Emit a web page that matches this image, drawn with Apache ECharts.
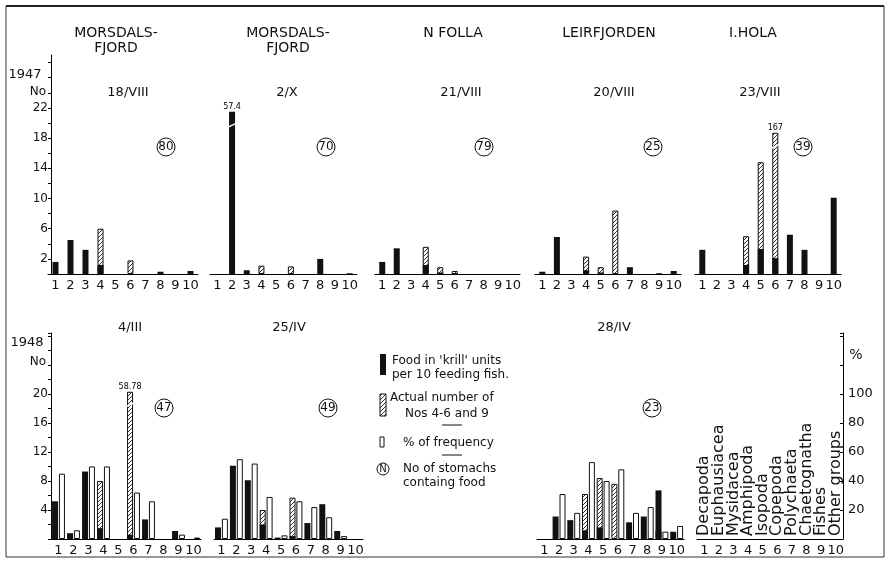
<!DOCTYPE html>
<html>
<head>
<meta charset="utf-8">
<script src="https://cdn.jsdelivr.net/npm/echarts@6/dist/echarts.min.js"></script>
<style>
  html, body { margin: 0; padding: 0; background: #fff; }
  #main { width: 889px; height: 566px; }
</style>
</head>
<body>
<div id="main"></div>
<script>
// prey groups (x categories)
const groupNums = ['1', '2', '3', '4', '5', '6', '7', '8', '9', '10'];
const groupNames = ['Decapoda', 'Euphausiacea', 'Mysidacea', 'Amphipoda', 'Isopoda',
  'Copepoda', 'Polychaeta', 'Chaetognatha', 'Fishes', 'Other groups'];

// 1947 - food in krill units per 10 feeding fish / actual number of Nos 4-6 and 9
const krill18VIII = [1.6, 4.5, 3.2, 1.2, 0, 0, 0, 0.3, 0, 0.4];
const nos18VIII = [0, 0, 0, 6.0, 0, 1.8, 0, 0, 0, 0];
const krill2X = [0, 57.4, 0.5, 0, 0, 0, 0, 2.0, 0, 0.1];
const nos2X = [0, 0, 0, 1.1, 0, 1.0, 0, 0, 0, 0];
const krill21VIII = [1.6, 3.4, 0, 1.2, 0.2, 0.1, 0, 0, 0, 0];
const nos21VIII = [0, 0, 0, 3.6, 0.9, 0.4, 0, 0, 0, 0];
const krill20VIII = [0.3, 4.9, 0, 0.5, 0.2, 0, 0.9, 0, 0.1, 0.4];
const nos20VIII = [0, 0, 0, 2.3, 0.9, 8.4, 0, 0, 0, 0];
const krill23VIII = [3.2, 0, 0, 1.2, 3.3, 2.1, 5.2, 3.2, 0, 10.1];
const nos23VIII = [0, 0, 0, 5.0, 14.8, 167, 0, 0, 0, 0];

// 1948 - same, plus % of frequency
const krill4III = [5.2, 0.8, 9.3, 1.5, 0, 0.6, 2.7, 0, 1.1, 0];
const nos4III = [0, 0, 0, 8.0, 0, 58.78, 0, 0, 0, 0];
const freq4III = [45, 6, 50, 50, 0, 32, 26, 0, 3, 1];
const krill25IV = [1.6, 10.1, 8.1, 2.0, 0.2, 0.4, 2.2, 4.8, 1.1, 0];
const nos25IV = [0, 0, 0, 4.0, 0, 5.7, 0, 0, 0, 0];
const freq25IV = [14, 55, 52, 29, 2.5, 26, 22, 15, 2, 0];
const krill28IV = [0, 3.1, 2.6, 1.2, 1.6, 0, 2.3, 3.1, 6.7, 1.0];
const nos28IV = [0, 0, 0, 6.2, 8.4, 7.6, 0, 0, 1.2, 0];
const freq28IV = [0, 31, 18, 53, 40, 48, 18, 22, 5, 9];

// panel texts
const places1947 = [['MORSDALS-', 'FJORD'], ['MORSDALS-', 'FJORD'], ['N FOLLA'], ['LEIRFJORDEN'], ['I.HOLA']];
const dates1947 = ['18/VIII', '2/X', '21/VIII', '20/VIII', '23/VIII'];
const stomachs1947 = [80, 70, 79, 25, 39];
const dates1948 = ['4/III', '25/IV', '28/IV'];
const stomachs1948 = [47, 49, 23];

const FONT = '"DejaVu Sans", sans-serif';

// hatch pattern
const hatch = (function () {
  const c = document.createElement('canvas');
  c.width = 4; c.height = 4;
  const g = c.getContext('2d');
  g.fillStyle = '#fff';
  g.fillRect(0, 0, 4, 4);
  g.strokeStyle = '#333';
  g.lineWidth = 1;
  g.beginPath();
  g.moveTo(0, 4); g.lineTo(4, 0);
  g.moveTo(-1, 1); g.lineTo(1, -1);
  g.moveTo(3, 5); g.lineTo(5, 3);
  g.stroke();
  return c;
})();
const hatchFill = { image: hatch, repeat: 'repeat' };

// bars cut off at "cap" get their real value written on top
function barData(arr, cap) {
  return arr.map(v => {
    if (!v) return null;
    if (cap && v > cap) {
      return { value: cap, label: { show: true, formatter: String(v) } };
    }
    return v;
  });
}
function breakMarks(arr, cap) {
  const pts = [];
  arr.forEach((v, i) => {
    if (cap && v > cap) pts.push({ coord: [i, cap - 1.8] });
  });
  return {
    silent: true, symbol: 'rect', symbolSize: [10, 1.5], symbolRotate: 25,
    itemStyle: { color: '#fff' }, label: { show: false }, data: pts
  };
}
const capLabel = { position: 'top', distance: 1, fontSize: 8, color: '#000', fontFamily: FONT };

// panel layout: grid box, title / date / circle positions
const top1947 = [
  { left: 48, width: 150, tx: 116, dx: 128, cx: 166, krill: krill18VIII, nos: nos18VIII, cap: 0 },
  { left: 210, width: 147, tx: 288, dx: 287, cx: 326, krill: krill2X, nos: nos2X, cap: 21.5 },
  { left: 375, width: 145, tx: 453, dx: 461, cx: 484, krill: krill21VIII, nos: nos21VIII, cap: 0 },
  { left: 535, width: 146, tx: 609, dx: 614, cx: 653, krill: krill20VIII, nos: nos20VIII, cap: 0 },
  { left: 695, width: 146, tx: 753, dx: 760, cx: 803, krill: krill23VIII, nos: nos23VIII, cap: 18.7 }
];
const bottom1948 = [
  { left: 51, width: 150, dx: 130, cx: 164, krill: krill4III, nos: nos4III, freq: freq4III, cap: 20.3 },
  { left: 214, width: 149, dx: 289, cx: 328, krill: krill25IV, nos: nos25IV, freq: freq25IV, cap: 0 },
  { left: 537, width: 147, dx: 614, cx: 652, krill: krill28IV, nos: nos28IV, freq: freq28IV, cap: 0 }
];
const KEY = { left: 697, width: 146 };

const TOP_Y = 55, TOP_H = 219, TOP_MAX = 29;
const BOT_Y = 333, BOT_H = 206, BOT_MAX = 28.4, PCT_MAX = 142;

const grid = [], xAxis = [], yAxis = [], series = [];

const numAxis = (gi, show) => ({
  type: 'category', gridIndex: gi, data: groupNums, position: 'bottom', show: show !== false,
  axisLine: { lineStyle: { color: '#000', width: 1 } },
  axisTick: { show: false },
  axisLabel: { color: '#111', fontSize: 13, fontFamily: FONT, margin: 5, interval: 0 }
});

// 1947 row
top1947.forEach((p, i) => {
  grid.push({ left: p.left, width: p.width, top: TOP_Y, height: TOP_H });
  xAxis.push(numAxis(i));
  yAxis.push({
    type: 'value', gridIndex: i, min: 0, max: TOP_MAX, interval: 2, show: i === 0, offset: -3,
    splitLine: { show: false },
    axisLine: { show: true, lineStyle: { color: '#000' } },
    axisTick: { show: true, length: 3, lineStyle: { color: '#000' } },
    axisLabel: {
      color: '#111', fontSize: 12, fontFamily: FONT, margin: 3, showMaxLabel: false,
      formatter: v => ((v - 2) % 4 === 0 && v <= 22 ? String(v) : '')
    }
  });
  series.push({
    type: 'bar', xAxisIndex: i, yAxisIndex: i, barWidth: 6, barGap: '-100%',
    data: barData(p.nos, p.cap), label: capLabel,
    itemStyle: { color: hatchFill, borderColor: '#111', borderWidth: 1 },
    markPoint: breakMarks(p.nos, p.cap)
  });
  series.push({
    type: 'bar', xAxisIndex: i, yAxisIndex: i, barWidth: 6, barGap: '-100%',
    data: barData(p.krill, p.cap), label: capLabel,
    itemStyle: { color: '#111' },
    markPoint: breakMarks(p.krill, p.cap)
  });
});

// 1948 row: black/hatched share one slot, white frequency bar sits next to it
bottom1948.forEach((p, j) => {
  const gi = 5 + j;
  grid.push({ left: p.left, width: p.width, top: BOT_Y, height: BOT_H });
  const xa = xAxis.length;
  xAxis.push(numAxis(gi), numAxis(gi, false), numAxis(gi, false));
  const ya = yAxis.length;
  yAxis.push({
    type: 'value', gridIndex: gi, min: 0, max: BOT_MAX, interval: 2, show: j === 0,
    splitLine: { show: false },
    axisLine: { show: true, lineStyle: { color: '#000' } },
    axisTick: { show: true, length: 3, lineStyle: { color: '#000' } },
    axisLabel: {
      color: '#111', fontSize: 12, fontFamily: FONT, margin: 3,
      formatter: v => (v % 4 === 0 && v > 0 && v <= 20 ? String(v) : '')
    }
  }, {
    type: 'value', gridIndex: gi, min: 0, max: PCT_MAX, show: false, splitLine: { show: false }
  });
  const slot = { type: 'bar', barWidth: 6, barGap: '15%' };
  series.push(Object.assign({}, slot, {
    xAxisIndex: xa + 1, yAxisIndex: ya, data: barData(p.nos, p.cap), label: capLabel,
    itemStyle: { color: hatchFill, borderColor: '#111', borderWidth: 1 },
    markPoint: breakMarks(p.nos, p.cap)
  }));
  series.push(Object.assign({}, slot, { xAxisIndex: xa + 1, yAxisIndex: ya, data: [] }));
  series.push(Object.assign({}, slot, {
    xAxisIndex: xa, yAxisIndex: ya, data: barData(p.krill, p.cap),
    itemStyle: { color: '#111' }
  }));
  series.push(Object.assign({}, slot, { xAxisIndex: xa, yAxisIndex: ya, data: [] }));
  series.push(Object.assign({}, slot, { xAxisIndex: xa + 2, yAxisIndex: ya + 1, data: [] }));
  series.push(Object.assign({}, slot, {
    xAxisIndex: xa + 2, yAxisIndex: ya + 1, data: barData(p.freq, 0),
    itemStyle: { color: '#fff', borderColor: '#111', borderWidth: 1 }
  }));
});

// key panel with group names and % axis
grid.push({ left: KEY.left, width: KEY.width, top: BOT_Y, height: BOT_H });
xAxis.push(numAxis(8));
xAxis.push({
  type: 'category', gridIndex: 8, data: groupNames, position: 'bottom',
  axisLine: { show: false }, axisTick: { show: false },
  axisLabel: { inside: true, rotate: 90, interval: 0, margin: 3, color: '#111', fontSize: 16, fontFamily: FONT }
});
yAxis.push({
  type: 'value', gridIndex: 8, min: 0, max: PCT_MAX, interval: 20, position: 'right',
  splitLine: { show: false },
  axisLine: { show: true, lineStyle: { color: '#000' } },
  axisTick: { show: true, length: 3, inside: true, lineStyle: { color: '#000' } },
  axisLabel: {
    color: '#111', fontSize: 13, fontFamily: FONT, margin: 5,
    formatter: v => (v > 0 && v <= 100 ? String(v) : '')
  }
});

// texts
const T = (text, x, y, size, extra) => ({
  type: 'text', silent: true,
  style: Object.assign({ text, x, y, fill: '#111', font: size + 'px ' + FONT, align: 'center', verticalAlign: 'middle' }, extra || {})
});
const circled = (n, x, y, r) => ({
  type: 'group', silent: true, children: [
    { type: 'circle', shape: { cx: x, cy: y, r: r || 9 }, style: { fill: '#fff', stroke: '#111', lineWidth: 1 } },
    T(String(n), x, y, r ? 10 : 12)
  ]
});

const graphic = [
  { type: 'rect', silent: true, shape: { x: 6, y: 6, width: 878, height: 551 }, style: { fill: null, stroke: '#333', lineWidth: 1 } },
  { type: 'line', silent: true, shape: { x1: 6, y1: 6, x2: 884, y2: 6 }, style: { stroke: '#222', lineWidth: 2 } }
];
top1947.forEach((p, i) => {
  places1947[i].forEach((line, k) => graphic.push(T(line, p.tx, 33 + k * 15, 14)));
  graphic.push(T(dates1947[i], p.dx, 93, 13));
  graphic.push(circled(stomachs1947[i], p.cx, 147));
});
bottom1948.forEach((p, j) => {
  graphic.push(T(dates1948[j], p.dx, 328, 13));
  graphic.push(circled(stomachs1948[j], p.cx, 408));
});
graphic.push(T('1947', 25, 75, 13), T('No', 38, 92, 12));
graphic.push(T('1948', 27, 343, 13), T('No', 38, 362, 12));
graphic.push(T('%', 856, 355, 14));

// legend
const LX = 392;
graphic.push(
  { type: 'rect', silent: true, shape: { x: 380, y: 354, width: 6, height: 21 }, style: { fill: '#111' } },
  T("Food in 'krill' units", LX, 361, 12, { align: 'left' }),
  T('per 10 feeding fish.', LX, 375, 12, { align: 'left' }),
  { type: 'rect', silent: true, shape: { x: 380, y: 394, width: 6, height: 22 }, style: { fill: hatchFill, stroke: '#111', lineWidth: 1 } },
  T('Actual number of', 390, 398, 12, { align: 'left' }),
  T('Nos 4-6 and 9', 405, 414, 12, { align: 'left' }),
  { type: 'line', silent: true, shape: { x1: 442, y1: 425, x2: 462, y2: 425 }, style: { stroke: '#111', lineWidth: 1 } },
  { type: 'rect', silent: true, shape: { x: 380, y: 437, width: 4, height: 10 }, style: { fill: '#fff', stroke: '#111', lineWidth: 1 } },
  T('% of frequency', 403, 443, 12, { align: 'left' }),
  { type: 'line', silent: true, shape: { x1: 442, y1: 455, x2: 462, y2: 455 }, style: { stroke: '#111', lineWidth: 1 } },
  circled('N', 383, 469, 6),
  T('No of stomachs', 403, 469, 12, { align: 'left' }),
  T('containg food', 403, 483, 12, { align: 'left' })
);

const chart = echarts.init(document.getElementById('main'));
chart.setOption({
  backgroundColor: '#fff',
  animation: false,
  grid, xAxis, yAxis, series, graphic
});
</script>
</body>
</html>
